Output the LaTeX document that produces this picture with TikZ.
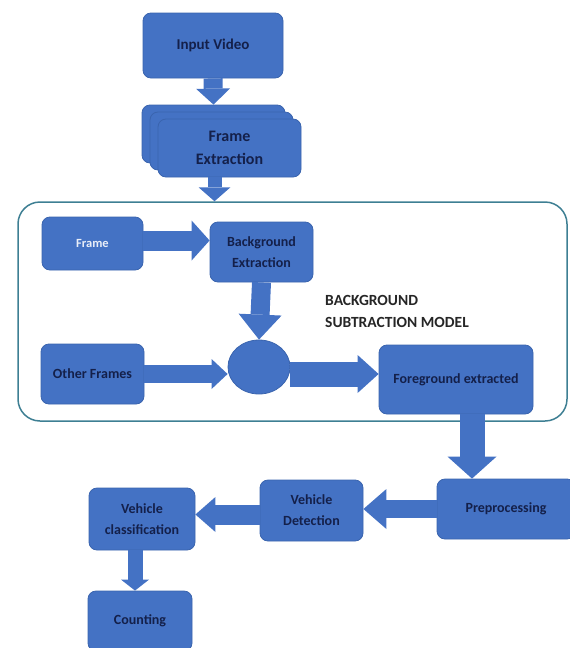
\documentclass[tikz,border=0pt]{standalone}
\usepackage{fontspec}
\setmainfont{Carlito}
\usetikzlibrary{arrows.meta,shapes.geometric}
\definecolor{boxblue}{HTML}{4472C4}
\definecolor{boxedge}{HTML}{3A64AE}
\definecolor{boxtext}{HTML}{14204A}
\definecolor{frameline}{HTML}{3E7F93}
\tikzset{
  blk/.style={rectangle, rounded corners=8pt, fill=boxblue, draw=boxedge,
    line width=0.8pt, inner sep=0pt, align=center, text=boxtext,
    font=\bfseries\fontsize{14}{21}\selectfont},
  fatarr/.style n args={3}{draw=boxblue, line width=#1,
    -{Triangle[width=#2, length=#3, line width=0pt]}}}

\begin{document}
\begin{tikzpicture}[x=1pt,y=-1pt]
  \useasboundingbox (0,0) rectangle (570,648);
  % input and stacked frames
  \node[blk, minimum width=140pt, minimum height=65pt,
    font=\bfseries\fontsize{15}{21}\selectfont] (iv) at (213,45.5) {Input Video};
  \node[blk, minimum width=143pt, minimum height=58pt] (fe1) at (213.5,134) {};
  \node[blk, minimum width=143pt, minimum height=58pt] (fe2) at (221.5,141) {};
  \node[blk, minimum width=143pt, minimum height=58pt,
    font=\bfseries\fontsize{16}{23}\selectfont] (fe3) at (229.5,148) {Frame\\Extraction};
  % background subtraction model
  \node[draw=frameline, line width=1.5pt, rounded corners=22pt,
    minimum width=549pt, minimum height=219pt] (bsm) at (292.5,311.5) {};
  \node[blk, minimum width=101pt, minimum height=53pt, text=white!88!boxblue,
    font=\bfseries\fontsize{12.5}{15}\selectfont] (fr) at (92.5,243.5) {Frame};
  \node[blk, minimum width=103pt, minimum height=60pt] (bge) at (261.5,252) {Background\\Extraction};
  \node[anchor=west, align=left, text=black!85, inner sep=0pt,
    font=\bfseries\fontsize{15.5}{22}\selectfont] (lbl) at (325,311) {BACKGROUND\\SUBTRACTION MODEL};
  \node[ellipse, fill=boxblue, draw=boxedge, line width=0.8pt, inner sep=0pt,
    minimum width=62pt, minimum height=54pt] (sub) at (259,367) {};
  \node[blk, minimum width=103pt, minimum height=60pt] (of) at (92.5,374) {Other Frames};
  \node[blk, minimum width=154pt, minimum height=69pt] (fg) at (456,379.5) {Foreground extracted};
  % detection chain
  \node[blk, minimum width=138pt, minimum height=60pt] (pre) at (506,509) {Preprocessing};
  \node[blk, minimum width=103pt, minimum height=61pt] (vd) at (311.5,510.5) {Vehicle\\Detection};
  \node[blk, minimum width=106pt, minimum height=62pt] (vc) at (142,519) {Vehicle\\classification};
  \node[blk, minimum width=104pt, minimum height=60pt] (cnt) at (140,621) {Counting};
  % block arrows
  \draw[fatarr={19pt}{34pt}{16pt}] (iv.south) -- (fe1.north);
  \draw[fatarr={14pt}{32pt}{14pt}] ([xshift=-15pt]fe3.south) -- ([xshift=-15pt]fe3.south |- bsm.north);
  \draw[fatarr={20pt}{40pt}{18pt}] ([yshift=3pt]fr.east) -- ([yshift=3pt]fr.east -| bge.west);
  \draw[fatarr={19pt}{43pt}{25pt}] (bge.south) -- (sub.north);
  \draw[fatarr={18pt}{30pt}{16pt}] (of.east) -- (of.east -| sub.west);
  \draw[fatarr={25pt}{38pt}{21pt}] (sub.east |- of.east) -- (fg.west |- of.east);
  \draw[fatarr={25pt}{49pt}{22pt}] ([xshift=16pt]fg.south) -- ([xshift=16pt]fg.south |- pre.north);
  \draw[fatarr={18pt}{40pt}{23pt}] (pre.west) -- (pre.west -| vd.east);
  \draw[fatarr={20pt}{35pt}{20pt}] ([yshift=-4pt]vd.west) -- ([yshift=-4pt]vd.west -| vc.east);
  \draw[fatarr={15pt}{28pt}{11pt}] ([xshift=-7pt]vc.south) -- ([xshift=-7pt]vc.south |- cnt.north);
\end{tikzpicture}
\end{document}
